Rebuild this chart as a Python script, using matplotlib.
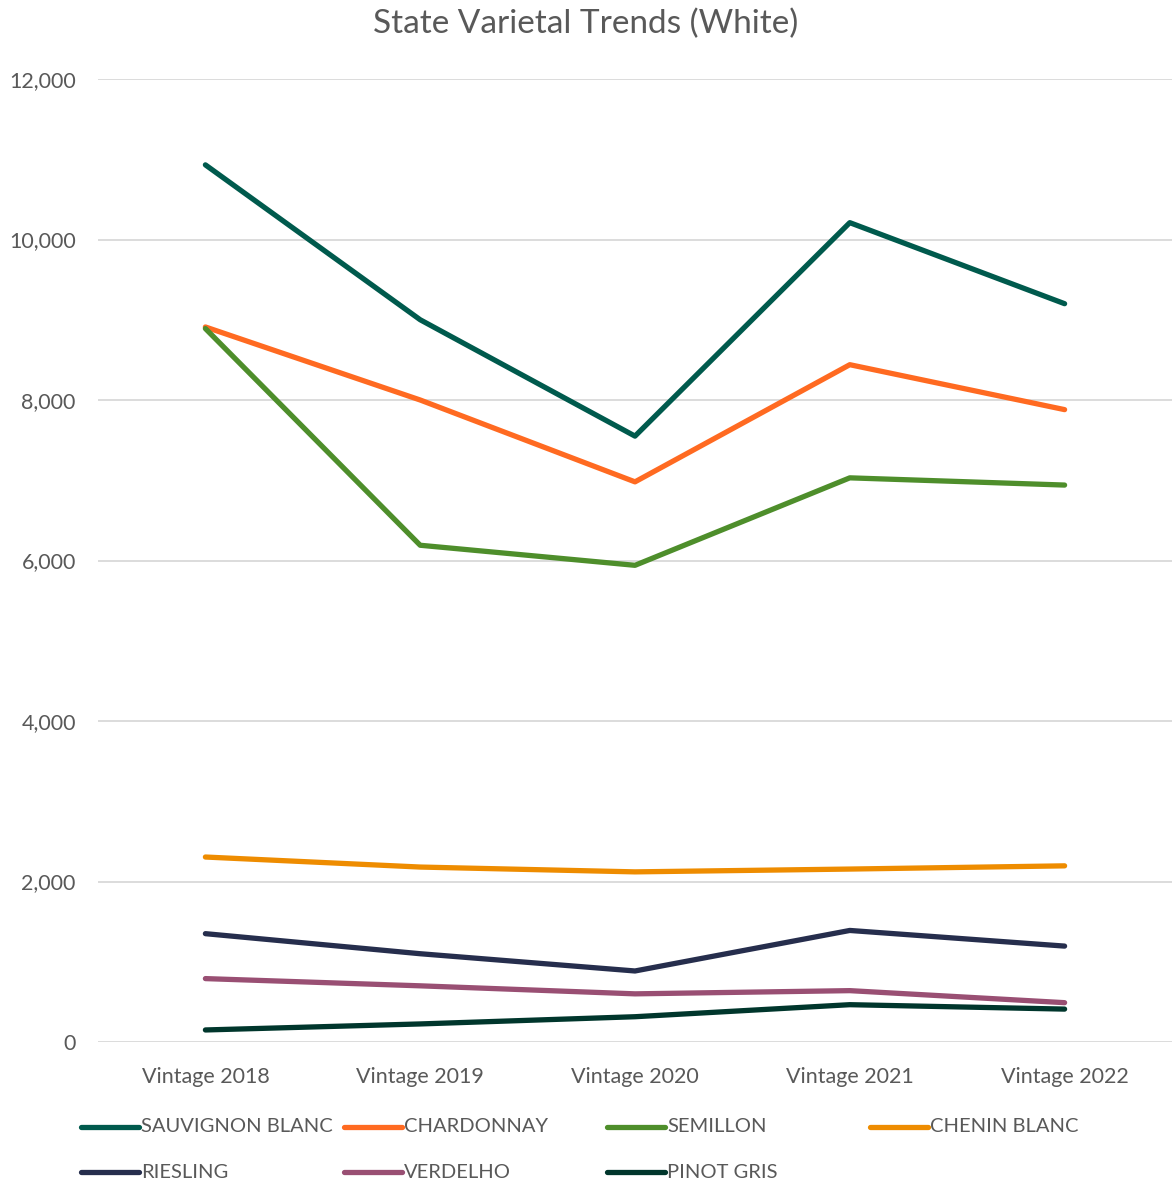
import matplotlib
matplotlib.use("Agg")
import matplotlib.pyplot as plt
from matplotlib.lines import Line2D
from matplotlib.ticker import FuncFormatter

plt.rcParams['font.family'] = ['Lato', 'DejaVu Sans']

vintages = ["Vintage 2018", "Vintage 2019", "Vintage 2020", "Vintage 2021", "Vintage 2022"]

sauvignon_blanc = [10930, 9000, 7550, 10210, 9200]
chardonnay = [8910, 8000, 6980, 8440, 7880]
semillon = [8890, 6190, 5940, 7030, 6940]
chenin_blanc = [2305, 2180, 2120, 2155, 2195]
riesling = [1350, 1100, 885, 1390, 1195]
verdelho = [790, 700, 600, 640, 490]
pinot_gris = [150, 225, 315, 465, 410]

series = [
    ("SAUVIGNON BLANC", sauvignon_blanc, "#005A4D"),
    ("CHARDONNAY", chardonnay, "#FF6A21"),
    ("SEMILLON", semillon, "#4E8E2B"),
    ("CHENIN BLANC", chenin_blanc, "#EE8C00"),
    ("RIESLING", riesling, "#262E4D"),
    ("VERDELHO", verdelho, "#994F73"),
    ("PINOT GRIS", pinot_gris, "#00362C"),
]

grey = "#595959"
W, H = 1172, 1183

fig = plt.figure(figsize=(W / 100, H / 100), dpi=100)
ax = fig.add_axes([98 / W, 1 - 1042 / H, 1 - 98 / W, (1042 - 79) / H])

x = range(len(vintages))
for name, vals, col in series:
    ax.plot(x, vals, color=col, lw=3.8, label=name, solid_capstyle="round", solid_joinstyle="round")

ax.set_xlim(-0.5, 4.5)
ax.set_ylim(0, 12000)
ax.set_yticks(range(0, 12001, 2000))
ax.yaxis.set_major_formatter(FuncFormatter(lambda v, p: f"{int(v):,}"))
ax.set_xticks(list(x))
ax.set_xticklabels(vintages)
ax.grid(axis="y", color="#D9D9D9", lw=1.3)
ax.set_axisbelow(True)
for s in ax.spines.values():
    s.set_visible(False)
ax.tick_params(length=0, colors=grey, labelsize=15.5)
ax.tick_params(axis="x", pad=18)
ax.tick_params(axis="y", pad=16)

fig.text(0.5, 1 - 24 / H, "State Varietal Trends (White)", fontsize=24, color=grey,
         ha="center", va="center")

# legend laid out in rows like the original, 4 entries per row
for i, (name, vals, col) in enumerate(series):
    r, c = divmod(i, 4)
    x0 = 81 + c * 263
    yy = 1 - (1127 + r * 45) / H
    fig.add_artist(Line2D([x0 / W, (x0 + 58) / W], [yy, yy], color=col, lw=3.8,
                          solid_capstyle="round", transform=fig.transFigure))
    fig.text((x0 + 60) / W, yy, name, fontsize=14.5, color=grey, va="center", ha="left")

fig.savefig("out.png", dpi=100)
